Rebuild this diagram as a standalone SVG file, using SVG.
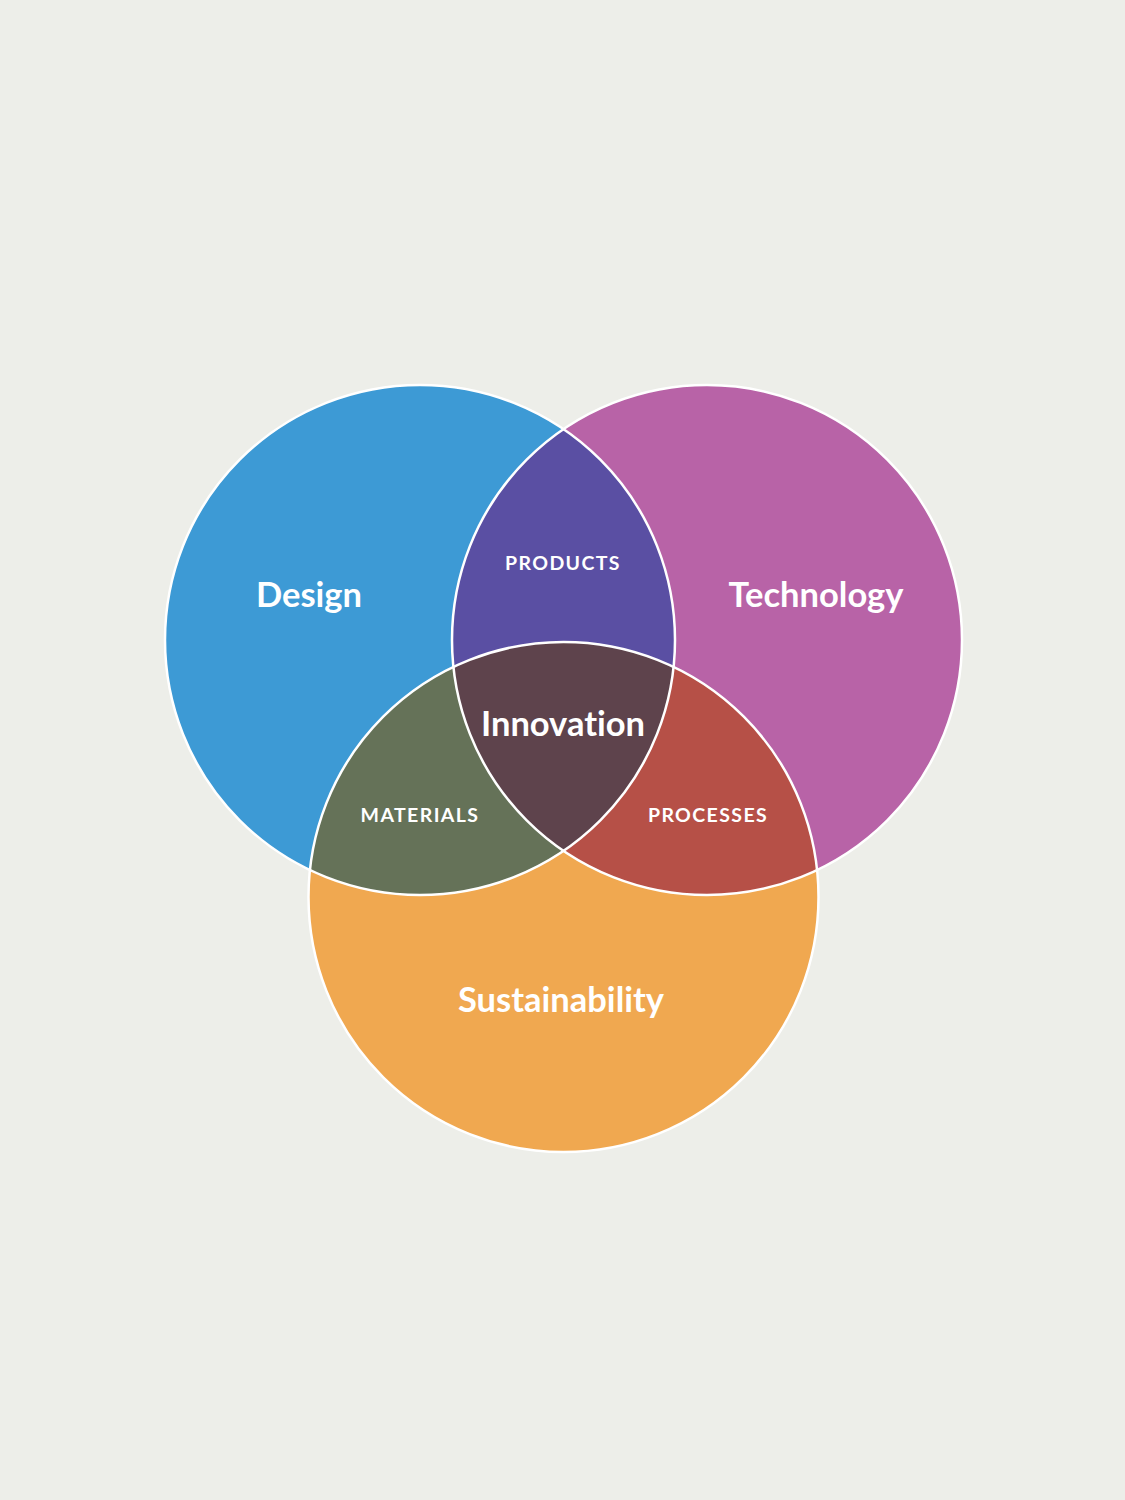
<svg xmlns="http://www.w3.org/2000/svg" width="1125" height="1500" viewBox="0 0 1125 1500">
<style>
.lbl{font-family:Lato,"Open Sans","DejaVu Sans",sans-serif;font-weight:700;fill:#FFFFFF;text-anchor:middle;font-variant-ligatures:none;font-feature-settings:"liga" 0}
.big{font-size:34.5px}
.small{font-size:19.5px;letter-spacing:1.4px}
.edge{fill:none;stroke:#FFFFFF;stroke-width:2.5}
</style>
<defs>
<clipPath id="cD"><circle cx="420" cy="640" r="255"/></clipPath>
<clipPath id="cT"><circle cx="707" cy="640" r="255"/></clipPath>
<clipPath id="cS"><circle cx="563.5" cy="897" r="255"/></clipPath>
</defs>
<rect x="0" y="0" width="1125" height="1500" fill="#EDEEE9"/>
<g id="design"><circle cx="420" cy="640" r="255" fill="#3D9AD5"/></g>
<g id="technology"><circle cx="707" cy="640" r="255" fill="#B863A7"/></g>
<g id="sustainability"><circle cx="563.5" cy="897" r="255" fill="#F0A850"/></g>
<g id="products" clip-path="url(#cD)"><circle cx="707" cy="640" r="255" fill="#5A4FA3"/></g>
<g id="materials" clip-path="url(#cD)"><circle cx="563.5" cy="897" r="255" fill="#657258"/></g>
<g id="processes" clip-path="url(#cT)"><circle cx="563.5" cy="897" r="255" fill="#B65047"/></g>
<g id="innovation" clip-path="url(#cD)"><g clip-path="url(#cT)"><circle cx="563.5" cy="897" r="255" fill="#5E434C"/></g></g>
<g id="outlines">
<circle class="edge" cx="420" cy="640" r="255"/>
<circle class="edge" cx="707" cy="640" r="255"/>
<circle class="edge" cx="563.5" cy="897" r="255"/>
</g>
<g id="labels">
<text class="lbl big" x="309" y="607">Design</text>
<text class="lbl big" x="816" y="607">Technology</text>
<text class="lbl small" x="563" y="570">PRODUCTS</text>
<text class="lbl big" x="563" y="736">Innovation</text>
<text class="lbl small" x="420" y="822">MATERIALS</text>
<text class="lbl small" x="708" y="822">PROCESSES</text>
<text class="lbl big" x="561" y="1012">Sustainability</text>
</g>
</svg>
